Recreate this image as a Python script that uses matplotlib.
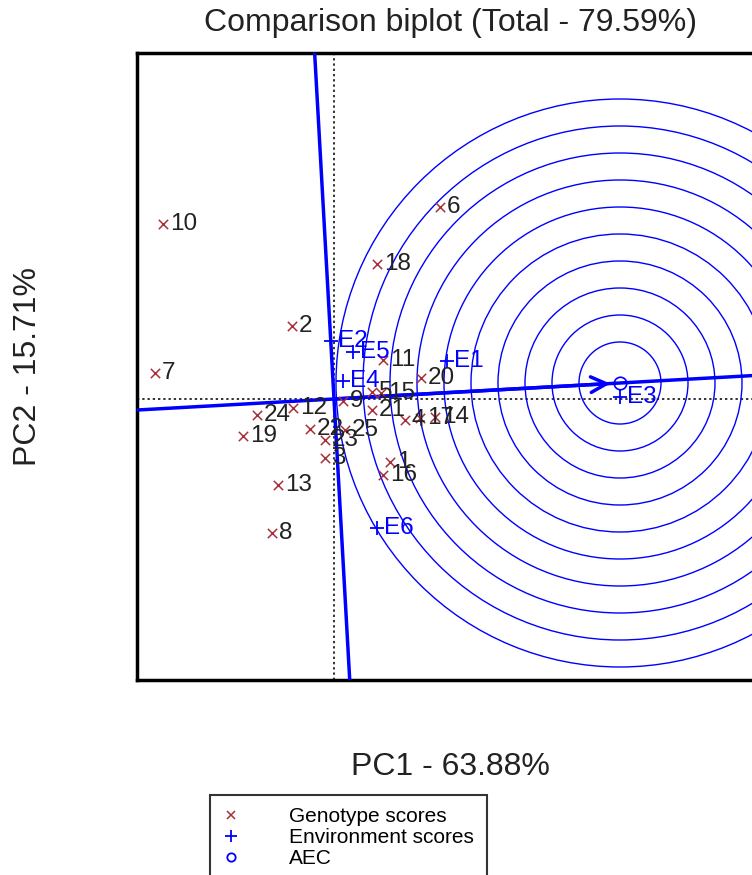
import matplotlib
matplotlib.use("Agg")
import matplotlib.pyplot as plt
from matplotlib.lines import Line2D
from matplotlib.patches import Circle
import numpy as np

plt.rcParams["font.family"] = ["Liberation Sans", "DejaVu Sans"]

# genotype scores (PC1, PC2)
gen_names = [str(i) for i in range(1, 26)]
gen_pc1 = [0.56, -0.42, -0.09, 0.71, 0.38, 1.06, -1.79, -0.62, 0.09, -1.71,
           0.49, -0.41, -0.56, 1.01, 0.47, 0.49, 0.86, 0.43, -0.91, 0.87,
           0.38, -0.24, -0.09, -0.77, 0.11]
gen_pc2 = [-0.63, 0.73, -0.59, -0.21, 0.07, 1.92, 0.26, -1.34, -0.02, 1.75,
           0.39, -0.09, -0.86, -0.18, 0.06, -0.76, -0.19, 1.35, -0.37, 0.21,
           -0.11, -0.30, -0.41, -0.16, -0.31]

# environment scores
env_names = ["E1", "E2", "E3", "E4", "E5", "E6"]
env_pc1 = [1.13, -0.03, 2.86, 0.09, 0.19, 0.43]
env_pc2 = [0.38, 0.58, 0.02, 0.18, 0.47, -1.29]

# ideal environment (on the AEC) and concentric circle radii
aec_point = [2.86, 0.16]
circle_radii = [0.41, 0.68, 0.95, 1.22, 1.49, 1.76, 2.03, 2.30, 2.57, 2.84]

xlim = (-1.97, 4.29)
ylim = (-2.81, 3.46)

W, H = 752, 875
fig = plt.figure(figsize=(W / 100, H / 100), dpi=100)
ax = fig.add_axes([137 / W, 195 / H, 626 / W, 627 / H])
ax.set_xlim(xlim)
ax.set_ylim(ylim)
ax.set_xticks([])
ax.set_yticks([])
for sp in ax.spines.values():
    sp.set_linewidth(2.5)
    sp.set_color("black")

blue = "#0000FF"
red = "#A8303A"

# reference axes
ax.axhline(0, color="#333333", linestyle=(0, (1.2, 1.5)), linewidth=1.4, zorder=1)
ax.axvline(0, color="#333333", linestyle=(0, (1.2, 1.5)), linewidth=1.4, zorder=1)

# concentric circles around the ideal environment
for r in circle_radii:
    ax.add_patch(Circle(aec_point, r, fill=False, edgecolor=blue, linewidth=1.0, zorder=2))

# AEC abscissa and ordinate
d = np.array(aec_point) / np.hypot(*aec_point)
t = np.array([-10, 10])
ax.plot(t * d[0], t * d[1], color=blue, linewidth=2.5, zorder=3)
ax.plot(-t * d[1], t * d[0], color=blue, linewidth=2.5, zorder=3)
ax.annotate("", xy=aec_point, xytext=(0, 0),
            arrowprops=dict(arrowstyle="->", color=blue, lw=2.5,
                            mutation_scale=28, shrinkA=0, shrinkB=7),
            zorder=4)
ax.plot(aec_point[0], aec_point[1], marker="o", markersize=9, markerfacecolor="none",
        markeredgecolor=blue, markeredgewidth=1.2, linestyle="none", zorder=4)

# genotypes
ax.scatter(gen_pc1, gen_pc2, marker="x", s=45, color=red, linewidths=1.1, zorder=5)
for name, x, y in zip(gen_names, gen_pc1, gen_pc2):
    ax.annotate(name, (x, y), xytext=(5, 0), textcoords="offset points",
                ha="left", va="center", fontsize=17.5, color="#222222", zorder=6)

# environments
ax.scatter(env_pc1, env_pc2, marker="+", s=110, color=blue, linewidths=1.3, zorder=5)
for name, x, y in zip(env_names, env_pc1, env_pc2):
    ax.annotate(name, (x, y), xytext=(5, 0), textcoords="offset points",
                ha="left", va="center", fontsize=17.5, color=blue, zorder=6)

cx = (137 + 763) / 2 / W
fig.text(cx, 1 - 23 / H, "Comparison biplot (Total - 79.59%)", ha="center", va="center",
         fontsize=23, color="#222222")
fig.text(cx, 1 - 767 / H, "PC1 - 63.88%", ha="center", va="center", fontsize=23,
         color="#222222")
fig.text(28 / W, 1 - 366 / H, "PC2 - 15.71%", ha="center", va="center", fontsize=23,
         rotation=90, color="#222222")

handles = [
    Line2D([], [], marker="x", color=red, linestyle="none", markersize=6, markeredgewidth=1.1),
    Line2D([], [], marker="+", color=blue, linestyle="none", markersize=9, markeredgewidth=1.3),
    Line2D([], [], marker="o", color=blue, markerfacecolor="none", linestyle="none",
           markersize=6, markeredgewidth=1.3),
]
leg = fig.legend(handles, ["Genotype scores", "Environment scores", "AEC"],
                 loc="upper left", bbox_to_anchor=(210 / W, 1 - 795 / H),
                 frameon=True, fancybox=False, edgecolor="black", fontsize=15,
                 handlelength=0.8, handletextpad=2.4, labelspacing=0.08,
                 borderpad=0.6, borderaxespad=0)
leg.get_frame().set_linewidth(1.5)

fig.savefig("out.png", dpi=100)
